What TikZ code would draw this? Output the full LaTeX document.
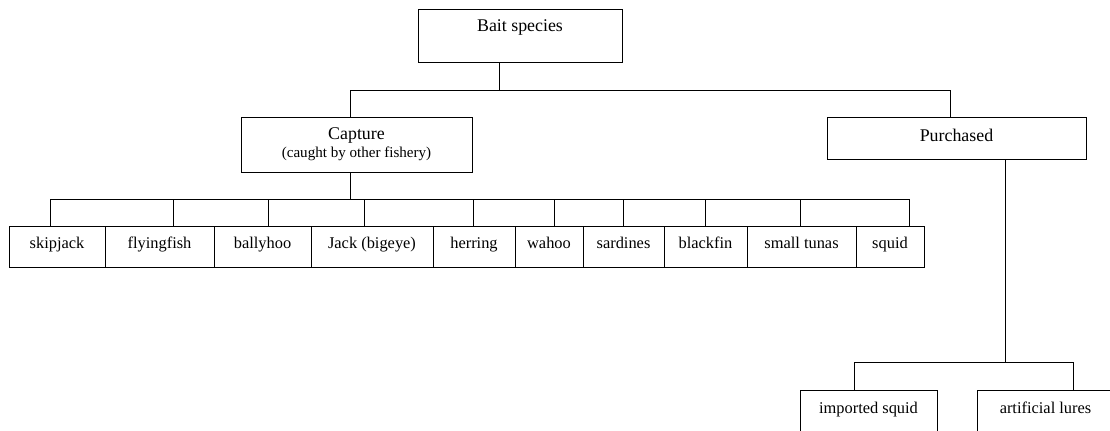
\documentclass[tikz,border=0pt]{standalone}
\usepackage{fontspec}
\setmainfont{Liberation Serif}
\usetikzlibrary{positioning,calc}
\tikzset{font=\fontsize{12.3}{14}\selectfont}

\begin{document}
\begin{tikzpicture}[x=0.75pt, y=-0.75pt, line width=0.75pt]
	\useasboundingbox (0, 0) rectangle (1110, 430);
	\clip (0, 0) rectangle (1110, 430);
	\begin{scope}
		\tikzstyle{every node}=[draw, rectangle, anchor=north west, inner sep=0pt, outer sep=0pt]
		\tikzstyle{head}=[font=\fontsize{13.4}{13.8}\selectfont]
		\tikzstyle{fish}=[text height=16.5pt, text depth=14.25pt]

		% top two levels
		\node[head, minimum width=153pt, text height=16.5pt, text depth=23.25pt] (bait) at (418, 9) {Bait species};
		\node[head, align=center, minimum width=173.25pt, minimum height=41.25pt] (capture) at (241, 117)
			{Capture\\{\fontsize{11.3}{13.8}\selectfont (caught by other fishery)}};
		\node[head, minimum width=194.25pt, text height=18pt, text depth=13.5pt] (purchased) at (827, 117) {Purchased};

		% caught species
		\node[fish, minimum width=72pt] (skip) at (9, 226) {skipjack};
		\node[fish, minimum width=81.75pt, right=0pt of skip] (fly) {flyingfish};
		\node[fish, minimum width=72.75pt, right=0pt of fly] (bally) {ballyhoo};
		\node[fish, minimum width=91.5pt, right=0pt of bally] (jack) {Jack (bigeye)};
		\node[fish, minimum width=61.5pt, right=0pt of jack] (herring) {herring};
		\node[fish, minimum width=51pt, right=0pt of herring] (wahoo) {wahoo};
		\node[fish, minimum width=60.75pt, right=0pt of wahoo] (sardines) {sardines};
		\node[fish, minimum width=62.25pt, right=0pt of sardines] (blackfin) {blackfin};
		\node[fish, minimum width=81.75pt, right=0pt of blackfin] (tunas) {small tunas};
		\node[fish, minimum width=51pt, right=0pt of tunas] (squid) {squid};

		% bought in
		\node[minimum width=102.75pt, text height=17.25pt, text depth=22.5pt] (imported) at (800, 390) {imported squid};
		\node[minimum width=102.75pt, text height=17.25pt, text depth=22.5pt] (artificial) at (977, 390) {artificial lures};
	\end{scope}

	\coordinate (baitout) at (499, 90);
	\coordinate (capin) at (350, 90);
	\coordinate (purin) at (950, 90);
	\coordinate (purout) at (1005, 362);
	\coordinate (impin) at (854, 362);
	\coordinate (artin) at (1073, 362);

	\draw (bait.south -| baitout) -- (baitout);
	\draw (capture.north -| capin) -- (capin) -- (purin) -- (purchased.north -| purin);

	\foreach \n/\t in {skip/50, fly/173, bally/268, jack/364, herring/473,
			wahoo/554, sardines/623, blackfin/705, tunas/800, squid/909} {
		\coordinate (t-\n) at (\t, 199);
		\draw (t-\n) -- (t-\n |- \n.north);
	}
	\draw (t-skip) -- (t-squid);
	\draw (capture.south -| capin) -- (capin |- t-skip);

	\draw (purchased.south -| purout) -- (purout);
	\draw (imported.north -| impin) -- (impin) -- (artin) -- (artificial.north -| artin);
\end{tikzpicture}
\end{document}
